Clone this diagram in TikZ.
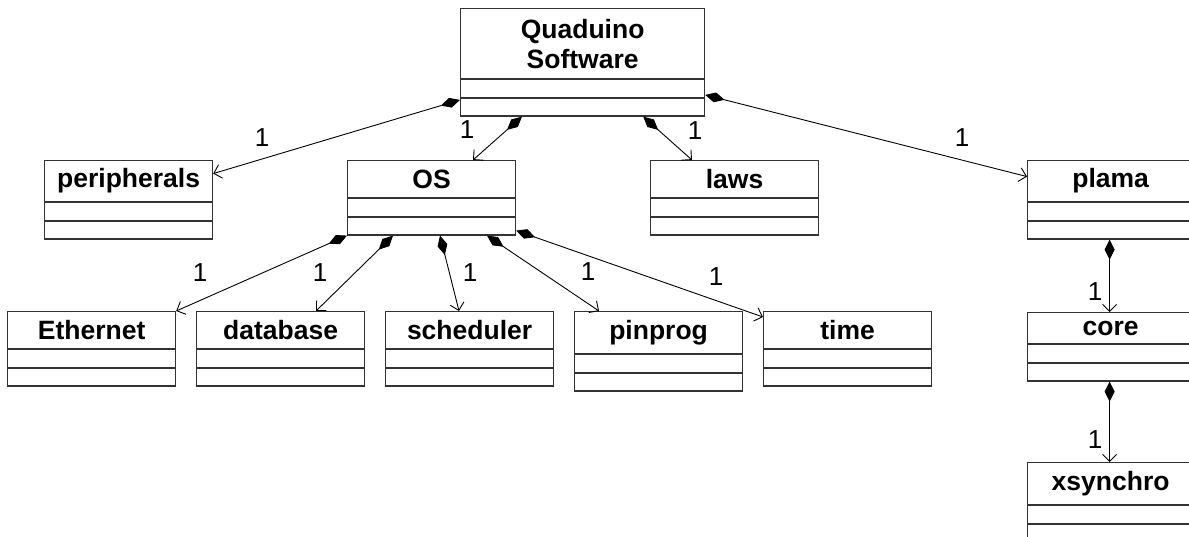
\documentclass[tikz,border=0pt]{standalone}
\usepackage{fontspec}
\setmainfont{Liberation Sans}
\usetikzlibrary{arrows.meta}

\tikzset{
  classtitle/.style={draw=black!80, line width=1.2pt, anchor=north west, inner sep=0pt,
    align=center, font=\fontsize{26.5}{30}\selectfont\bfseries},
  classpart/.style={draw=black!80, line width=1.2pt, inner sep=0pt, minimum height=17.5},
  comp/.style={{Diamond[length=20pt,width=10pt]}-{Straight Barb[length=7pt,width=14pt]}, line width=0.9pt},
  mult/.style={font=\fontsize{26}{30}\selectfont}
}

% name, x, y, width, title height, text
\newcommand{\classbox}[6]{%
  \node[classtitle, minimum width=#4, minimum height=#5] (#1) at (#2,#3) {#6};
  \node[classpart, minimum width=#4, anchor=north] (#1-a) at (#1.south) {};
  \node[classpart, minimum width=#4, anchor=north] (#1-b) at (#1-a.south) {};
}

\begin{document}
\begin{tikzpicture}[x=1pt,y=-1pt]
   \useasboundingbox (0,0) rectangle (1189,537);

   \classbox{quad}{460}{8}{244}{70}{Quaduino\\Software}
   \classbox{periph}{44}{160}{168}{41}{peripherals}
   \classbox{os}{347}{160}{168}{37}{OS}
   \classbox{laws}{650}{160}{168}{37}{laws}
   \classbox{plama}{1027}{160}{166}{41}{plama}

   \classbox{eth}{7}{311}{168}{37}{Ethernet}
   \classbox{db}{196}{311}{168}{37}{database}
   \classbox{sched}{385}{311}{168}{37}{scheduler}
   \classbox{pin}{574}{311}{168}{42}{pinprog}
   \classbox{time}{763}{311}{168}{37}{time}
   \classbox{core}{1027}{312}{166}{31}{core}
   \classbox{xsyn}{1027}{462}{166}{42}{xsynchro}

   % composition links from Quaduino Software
   \draw[comp] ([yshift=-2pt]quad-b.north west) -- ([yshift=7.5pt]periph.east);
   \draw[comp] ([xshift=62pt]quad-b.south west) -- ([xshift=126pt]os.north west);
   \draw[comp] ([xshift=-62pt]quad-b.south east) -- ([xshift=42pt]laws.north west);
   \draw[comp] ([yshift=3pt]quad-a.south east) -- ([yshift=4.5pt]plama.west);

   % composition links from OS
   \draw[comp] (os-b.south west) -- (eth.north east);
   \draw[comp] ([xshift=46pt]os-b.south west) -- ([xshift=120pt]db.north west);
   \draw[comp] ([xshift=93pt]os-b.south west) -- ([xshift=74pt]sched.north west);
   \draw[comp] ([xshift=140pt]os-b.south west) -- ([xshift=25pt]pin.north west);
   \draw[comp] ([yshift=5pt]os-b.south east) -- ([yshift=-6pt]time.north west);

   % plama chain
   \draw[comp] ([xshift=-1pt]plama-b.south) -- ([xshift=-1pt]core.north);
   \draw[comp] ([xshift=-1pt]core-b.south) -- ([xshift=-1pt]xsyn.north);

   % multiplicities
   \node[mult] (m1) at (262,138) {1};
   \node[mult] (m2) at (467,130) {1};
   \node[mult] (m3) at (695,131) {1};
   \node[mult] (m4) at (962,138) {1};
   \node[mult] (m5) at (200,273) {1};
   \node[mult] (m6) at (320,273) {1};
   \node[mult] (m7) at (470,273) {1};
   \node[mult] (m8) at (588,272) {1};
   \node[mult] (m9) at (716,277) {1};
   \node[mult] (m10) at (1095,292) {1};
   \node[mult] (m11) at (1095,440) {1};
\end{tikzpicture}
\end{document}
